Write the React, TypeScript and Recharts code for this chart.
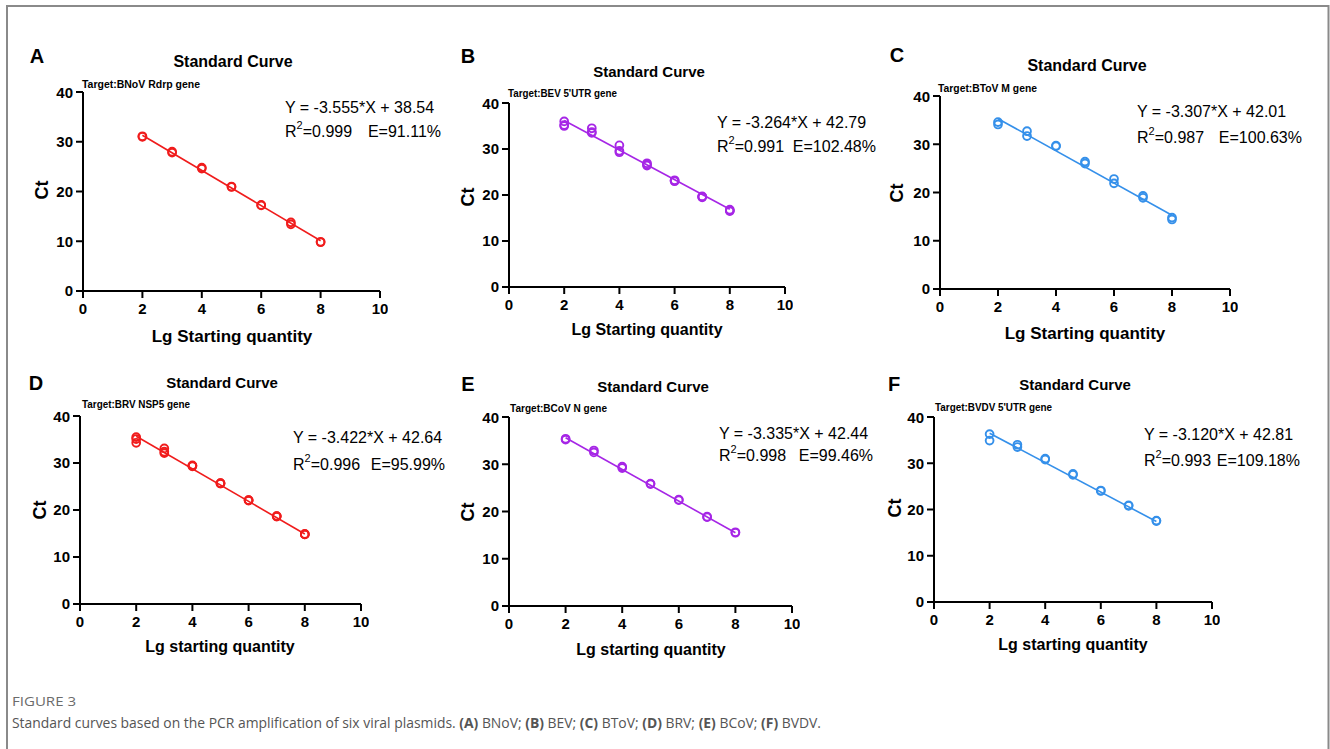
import { Scatter, ScatterChart, XAxis, YAxis } from 'recharts'

// shared axes
const lgQuantity = [2, 3, 4, 5, 6, 7, 8]
const fitX = [2, 8]
const xTicks = [0, 2, 4, 6, 8, 10]
const yTicks = [0, 10, 20, 30, 40]

// A - BNoV
const bnovRep1 = [31.0, 28.0, 24.6, 21.0, 17.2, 13.8, 9.8]
const bnovRep2 = [31.1, 27.8, 24.8, 20.9, 17.3, 13.4, 9.9]
const bnovFit = [31.3, 10.1]

// B - BEV
const bevRep1 = [36.0, 34.5, 30.8, 26.9, 23.2, 19.7, 16.8]
const bevRep2 = [35.0, 33.5, 29.3, 26.4, 23.0, 19.5, 16.5]
const bevRep3 = [35.2, 33.7, 29.6, 26.6, 23.1, 19.6, 16.6]
const bevFit = [36.2, 16.9]

// C - BToV
const btovRep1 = [34.6, 32.7, 29.7, 26.4, 22.8, 19.3, 14.8]
const btovRep2 = [34.1, 31.7, 29.6, 26.0, 21.9, 18.9, 14.4]
const btovFit = [35.3, 15.3]

// D - BRV
const brvRep1 = [35.5, 33.1, 29.5, 25.7, 22.1, 18.7, 14.9]
const brvRep2 = [34.3, 32.1, 29.3, 25.6, 22.0, 18.6, 14.8]
const brvRep3 = [35.1, 32.4, 29.4, 25.7, 22.1, 18.7, 14.8]
const brvFit = [35.7, 14.9]

// E - BCoV
const bcovRep1 = [35.4, 32.9, 29.5, 25.9, 22.5, 18.9, 15.6]
const bcovRep2 = [35.2, 32.5, 29.2, 25.8, 22.4, 18.8, 15.5]
const bcovFit = [35.6, 15.5]

// F - BVDV
const bvdvRep1 = [36.3, 34.0, 31.0, 27.7, 24.1, 20.9, 17.6]
const bvdvRep2 = [34.9, 33.5, 30.8, 27.5, 24.0, 20.8, 17.5]
const bvdvFit = [36.5, 17.4]

const letters = ['A', 'B', 'C', 'D', 'E', 'F']
const targets = [
  'Target:BNoV Rdrp gene',
  "Target:BEV 5'UTR gene",
  'Target:BToV M gene',
  'Target:BRV NSP5 gene',
  'Target:BCoV N gene',
  "Target:BVDV 5'UTR gene",
]
const equations = [
  'Y = -3.555*X + 38.54',
  'Y = -3.264*X + 42.79',
  'Y = -3.307*X + 42.01',
  'Y = -3.422*X + 42.64',
  'Y = -3.335*X + 42.44',
  'Y = -3.120*X + 42.81',
]
const r2Values = ['0.999', '0.991', '0.987', '0.996', '0.998', '0.993']
const efficiencies = ['91.11%', '102.48%', '100.63%', '95.99%', '99.46%', '109.18%']
const xLabels = [
  'Lg Starting quantity',
  'Lg Starting quantity',
  'Lg Starting quantity',
  'Lg starting quantity',
  'Lg starting quantity',
  'Lg starting quantity',
]
const captionParts = [
  ['', 'Standard curves based on the PCR amplification of six viral plasmids. '],
  ['(A)', ' BNoV; '],
  ['(B)', ' BEV; '],
  ['(C)', ' BToV; '],
  ['(D)', ' BRV; '],
  ['(E)', ' BCoV; '],
  ['(F)', ' BVDV.'],
]
const replicates = [
  [bnovRep1, bnovRep2],
  [bevRep1, bevRep2, bevRep3],
  [btovRep1, btovRep2],
  [brvRep1, brvRep2, brvRep3],
  [bcovRep1, bcovRep2],
  [bvdvRep1, bvdvRep2],
]
const fits = [bnovFit, bevFit, btovFit, brvFit, bcovFit, bvdvFit]

const RED = '#f01c1c'
const PURPLE = '#a626e6'
const BLUE = '#3590ea'
const colors = [RED, PURPLE, BLUE, RED, PURPLE, BLUE]

// pixel layout of each panel (axis frame + text anchors)
const layouts = [
  { x0: 83, x10: 380, y40: 92, y0: 291, letter: [37, 56], title: [233, 61, 16], target: [82, 84, 118], ct: [42, 190], xlab: [232, 336, 17], eq: [285, 107, 131, 441] },
  { x0: 509, x10: 785, y40: 103, y0: 287, letter: [468, 56], title: [649, 71, 15], target: [508, 93, 109], ct: [468, 197], xlab: [647, 329, 16], eq: [717, 122, 146, 876] },
  { x0: 940, x10: 1230, y40: 96, y0: 289, letter: [897, 55], title: [1087, 65, 16], target: [938, 88, 99], ct: [897, 193], xlab: [1085, 333, 17], eq: [1137, 111, 137, 1302] },
  { x0: 80, x10: 361, y40: 416, y0: 604, letter: [36, 383], title: [222, 382, 15], target: [82, 404, 108], ct: [40, 510], xlab: [220, 646, 16], eq: [293, 437, 464, 445] },
  { x0: 509, x10: 792, y40: 417, y0: 606, letter: [468, 384], title: [653, 386, 15], target: [510, 408, 97], ct: [468, 512], xlab: [651, 649, 16], eq: [719, 433, 455, 873] },
  { x0: 934, x10: 1212, y40: 417, y0: 602, letter: [894, 384], title: [1075, 384, 15], target: [935, 407, 117], ct: [895, 508], xlab: [1073, 644, 16], eq: [1144, 434, 460, 1300] },
]

const FONT = "Arial, 'Liberation Sans', sans-serif"
const Y_AXIS_W = 50
const X_AXIS_H = 34
const TOP = 8
const RIGHT = 8

const ring = (color: string) => (props: any) => (
  <circle cx={props.cx} cy={props.cy} r={3.9} fill='none' stroke={color} strokeWidth={1.9} />
)
const noDot = () => <g />

function Panel({ index }: { index: number }) {
  const l = layouts[index]
  const color = colors[index]
  const points = lgQuantity.flatMap((x, i) => replicates[index].map((rep) => ({ x, y: rep[i] })))
  const fitLine = fitX.map((x, i) => ({ x, y: fits[index][i] }))
  const width = l.x10 - l.x0 + Y_AXIS_W + RIGHT
  const height = l.y0 - l.y40 + TOP + X_AXIS_H
  const tick = { fontSize: 15, fontWeight: 700, fill: '#000', fontFamily: FONT }

  return (
    <div style={{ position: 'absolute', left: l.x0 - Y_AXIS_W, top: l.y40 - TOP }}>
      <ScatterChart width={width} height={height} margin={{ top: TOP, right: RIGHT, bottom: 0, left: 0 }}>
        <XAxis
          type='number'
          dataKey='x'
          domain={[0, 10]}
          ticks={xTicks}
          height={X_AXIS_H}
          tick={tick}
          tickSize={7}
          tickMargin={5}
          axisLine={{ stroke: '#000', strokeWidth: 2 }}
          tickLine={{ stroke: '#000', strokeWidth: 2 }}
        />
        <YAxis
          type='number'
          dataKey='y'
          domain={[0, 40]}
          ticks={yTicks}
          width={Y_AXIS_W}
          tick={tick}
          tickSize={7}
          tickMargin={3}
          axisLine={{ stroke: '#000', strokeWidth: 2 }}
          tickLine={{ stroke: '#000', strokeWidth: 2 }}
        />
        <Scatter data={fitLine} line={{ stroke: color, strokeWidth: 1.6 }} shape={noDot} isAnimationActive={false} />
        <Scatter data={points} shape={ring(color)} isAnimationActive={false} />
      </ScatterChart>
    </div>
  )
}

function PanelText({ index }: { index: number }) {
  const l = layouts[index]
  return (
    <g fontFamily={FONT} fill='#000'>
      <text x={l.letter[0]} y={l.letter[1]} fontSize={20} fontWeight={700} textAnchor='middle' dominantBaseline='central'>
        {letters[index]}
      </text>
      <text x={l.title[0]} y={l.title[1]} fontSize={l.title[2]} fontWeight={700} textAnchor='middle' dominantBaseline='central'>
        Standard Curve
      </text>
      <text x={l.target[0]} y={l.target[1]} fontSize={10} fontWeight={700} dominantBaseline='central' textLength={l.target[2]} lengthAdjust='spacingAndGlyphs'>
        {targets[index]}
      </text>
      <text
        x={l.ct[0]}
        y={l.ct[1]}
        fontSize={18}
        fontWeight={700}
        textAnchor='middle'
        dominantBaseline='central'
        transform={`rotate(-90 ${l.ct[0]} ${l.ct[1]})`}
      >
        Ct
      </text>
      <text x={l.xlab[0]} y={l.xlab[1]} fontSize={l.xlab[2]} fontWeight={700} textAnchor='middle' dominantBaseline='central'>
        {xLabels[index]}
      </text>
      <text x={l.eq[0]} y={l.eq[1]} fontSize={16} dominantBaseline='central'>
        {equations[index]}
      </text>
      <text x={l.eq[0]} y={l.eq[2]} fontSize={16} dominantBaseline='central'>
        <tspan>R</tspan>
        <tspan fontSize={11} dy={-6}>2</tspan>
        <tspan dy={6}>={r2Values[index]}</tspan>
      </text>
      <text x={l.eq[3]} y={l.eq[2]} fontSize={16} textAnchor='end' dominantBaseline='central'>
        E={efficiencies[index]}
      </text>
    </g>
  )
}

export default function App() {
  return (
    <div style={{ position: 'absolute', left: 0, top: 0, width: 1330, height: 749, background: '#fff', overflow: 'hidden' }}>
      {letters.map((_, i) => (
        <Panel key={i} index={i} />
      ))}
      <svg width={1330} height={749} style={{ position: 'absolute', left: 0, top: 0, pointerEvents: 'none' }}>
        <path d='M7 749 V6 H1328.5 V749' fill='none' stroke='#8a8a8a' strokeWidth={2} />
        {letters.map((_, i) => (
          <PanelText key={i} index={i} />
        ))}
        <text x={12} y={701} fontSize={12.5} fill='#6b6b6b' fontFamily="'Open Sans', sans-serif" dominantBaseline='central' textLength={64} lengthAdjust='spacingAndGlyphs'>
          FIGURE 3
        </text>
        <text x={12} y={722} fontSize={13.9} fill='#555' fontFamily="'Open Sans', sans-serif" dominantBaseline='central' style={{ whiteSpace: 'pre' }}>
          {captionParts.map(([bold, rest], i) => (
            <tspan key={i}>
              {bold ? <tspan fontWeight={700}>{bold}</tspan> : null}
              {rest}
            </tspan>
          ))}
        </text>
      </svg>
    </div>
  )
}
